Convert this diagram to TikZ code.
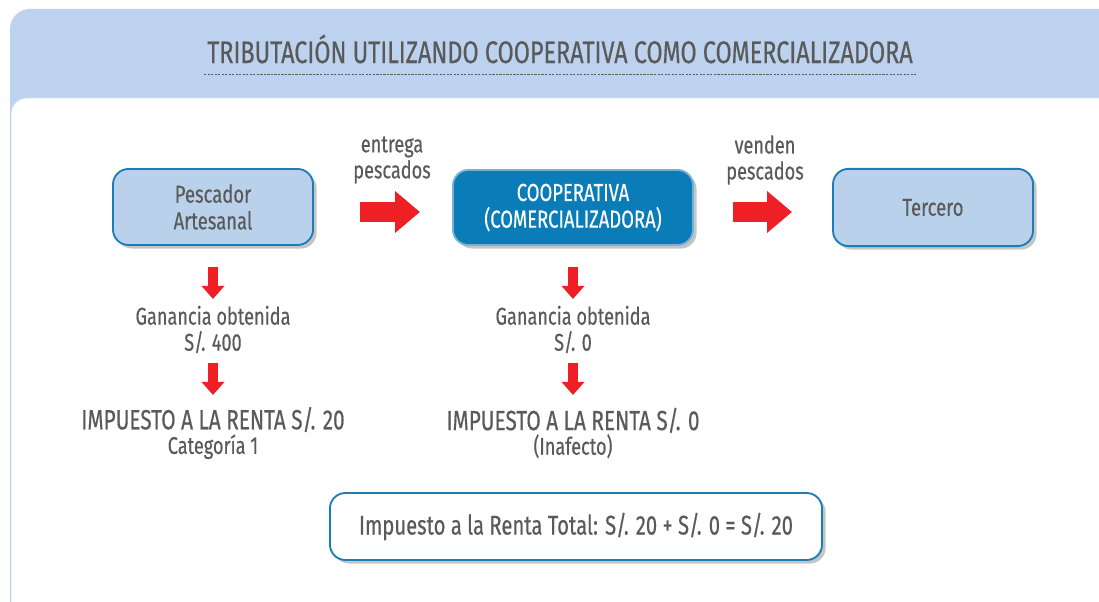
\documentclass[tikz,border=0pt]{standalone}
\usepackage{fontspec}
\setmainfont{Fira Sans}[FakeStretch=0.75,FakeBold=0.4]
\usetikzlibrary{positioning,shadows,arrows.meta}

\definecolor{panelblue}{HTML}{BCD2EE}
\definecolor{boxblue}{HTML}{BAD1EC}
\definecolor{edgeblue}{HTML}{1B7DB8}
\definecolor{coopblue}{HTML}{0A7CB8}
\definecolor{txtgray}{HTML}{5A5A5A}
\definecolor{arrowred}{HTML}{EE1F25}

\tikzset{
  entity/.style={rectangle, rounded corners=11pt, draw=edgeblue, line width=1.3pt,
    fill=boxblue, minimum width=5cm, minimum height=1.9cm, align=center,
    text=txtgray, font=\fontsize{17.5}{19}\selectfont,
    drop shadow={shadow xshift=2.5pt, shadow yshift=-2.5pt, opacity=0.45}},
  caption/.style={align=center, text=txtgray, font=\fontsize{17.2}{18.5}\selectfont},
  result/.style={align=center, text=txtgray, font=\fontsize{19.7}{17.5}\selectfont},
  rightarr/.style={arrowred, line width=0.5cm, -{Triangle[length=0.62cm,width=1cm]}},
  downarr/.style={arrowred, line width=0.26cm, -{Triangle[length=0.33cm,width=0.56cm]}},
}

\begin{document}
\begin{tikzpicture}[x=0.025cm,y=-0.025cm]
  \useasboundingbox (0,0) rectangle (1099,602);
  % panels
  \fill[panelblue, rounded corners=0.5cm] (10,9) rectangle (1140,650);
  \draw[panelblue!60!edgeblue!40, fill=white, rounded corners=0.4cm] (11,98) rectangle (1140,650);

  \node[text=txtgray, font=\fontsize{22.2}{24}\selectfont] (title) at (560,49)
    {TRIBUTACIÓN UTILIZANDO COOPERATIVA COMO COMERCIALIZADORA};
  \coordinate (rulea) at (204,74);
  \coordinate (ruleb) at (917,74);
  \draw[txtgray, line width=0.6pt, dash pattern=on 1.6pt off 0.9pt] (rulea) -- (ruleb);

  % top row
  \node[entity] (pesc) at (213,207) {Pescador\\Artesanal};
  \node[entity, fill=coopblue, text=white, draw=edgeblue!60, minimum width=6cm,
    minimum height=1.875cm] (coop) at (573,207.5) {COOPERATIVA\\(COMERCIALIZADORA)};
  \node[entity, minimum height=1.93cm] (terc) at (933,207.5) {Tercero};

  \node[caption] (entrega) at (392,160) {entrega\\pescados};
  \node[caption] (venden) at (765,160) {venden\\pescados};

  \coordinate (r1a) at (360,212);
  \coordinate (r1b) at (420,212);
  \coordinate (r2a) at (733,212);
  \coordinate (r2b) at (792,212);
  \draw[rightarr] (r1a) -- (r1b);
  \draw[rightarr] (r2a) -- (r2b);

  % columns below
  \node[caption] (gan1) at (213,329.5) {Ganancia obtenida\\S/. 400};
  \node[caption] (gan2) at (573,329.5) {Ganancia obtenida\\S/. 0};
  \node[result] (ir1) at (213,433) {IMPUESTO A LA RENTA S/. 20\\{\fontsize{17.2}{17.5}\selectfont Categoría 1}};
  \node[result] (ir2) at (573,433) {IMPUESTO A LA RENTA S/. 0\\{\fontsize{17.2}{17.5}\selectfont (Inafecto)}};

  \foreach \x/\n in {213/a, 573/b}{
    \coordinate (d1\n) at (\x,267);
    \coordinate (e1\n) at (\x,299);
    \coordinate (d2\n) at (\x,363);
    \coordinate (e2\n) at (\x,395);
    \draw[downarr] (d1\n) -- (e1\n);
    \draw[downarr] (d2\n) -- (e2\n);
  }

  \node[entity, fill=white, minimum width=12.3cm, minimum height=1.675cm,
    font=\fontsize{19.2}{20}\selectfont] (total) at (576,526.5)
    {Impuesto a la Renta Total: S/. 20 + S/. 0 = S/. 20};
\end{tikzpicture}
\end{document}
